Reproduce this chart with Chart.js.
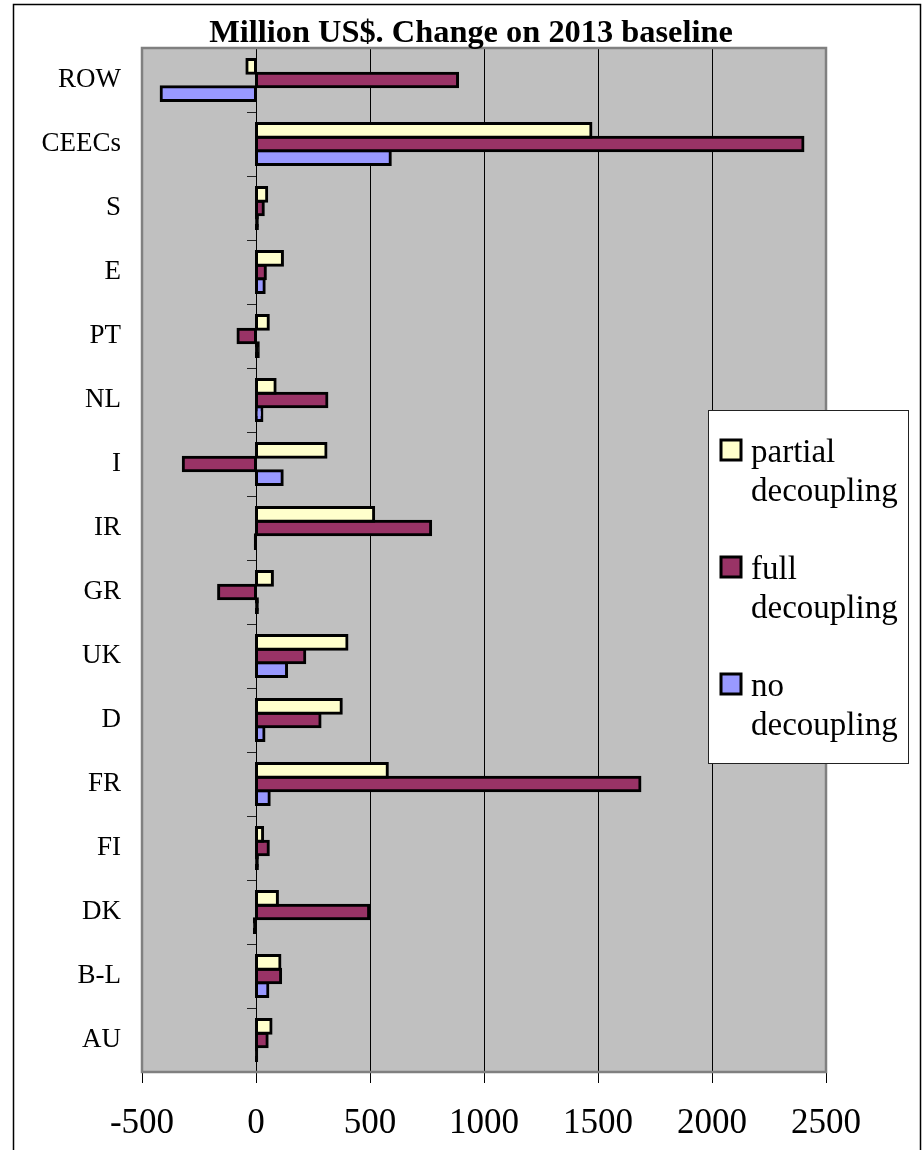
<!DOCTYPE html>
<html>
<head>
<meta charset="utf-8">
<title>Million US$. Change on 2013 baseline</title>
<script src="https://cdn.jsdelivr.net/npm/chart.js@4.4.1/dist/chart.umd.min.js"></script>
<style>
  html, body { margin: 0; padding: 0; background: #ffffff; }
  canvas { display: block; }
</style>
</head>
<body>
<canvas id="chart" width="922" height="1150"></canvas>
<script>
// Regions, top to bottom
const regions = ['ROW', 'CEECs', 'S', 'E', 'PT', 'NL', 'I', 'IR', 'GR', 'UK', 'D', 'FR', 'FI', 'DK', 'B-L', 'AU'];

// Change on the 2013 baseline, million US$
const partialDecoupling = [-40, 1469, 47, 116, 54, 84, 307, 516, 72, 399, 374, 576, 29, 94, 105, 66];
const fullDecoupling    = [884, 2399, 32, 41, -79, 311, -319, 766, -164, 214, 281, 1684, 54, 494, 108, 49];
const noDecoupling      = [-416, 589, 6, 36, 10, 26, 115, -3, 6, 134, 35, 58, 6, -7, 52, 3];

const seriesNames  = ['partial decoupling', 'full decoupling', 'no decoupling'];
const seriesColors = ['#FFFFCC', '#993366', '#9999FF'];

const xTicks = [-500, 0, 500, 1000, 1500, 2000, 2500];
const chartTitle = 'Million US$. Change on 2013 baseline';

const SERIF = '"Liberation Serif", "Times New Roman", Times, serif';
const BORDER = 3;

// Grey plot background, painted under the grid
const plotBackground = {
  id: 'plotBackground',
  beforeDraw(chart) {
    const { ctx, chartArea: a } = chart;
    ctx.save();
    ctx.fillStyle = '#C0C0C0';
    ctx.fillRect(a.left, a.top, a.right - a.left, a.bottom - a.top);
    ctx.restore();
  }
};

// Plot border and the short category ticks on the zero line
const plotFrame = {
  id: 'plotFrame',
  afterDatasetsDraw(chart) {
    const { ctx, chartArea: a, scales } = chart;
    const x0 = scales.x.getPixelForValue(0);
    const n = chart.data.labels.length;
    const step = (scales.y.bottom - scales.y.top) / n;
    ctx.save();
    ctx.strokeStyle = '#222';
    ctx.lineWidth = 1;
    for (let i = 0; i <= n; i++) {
      const y = Math.round(scales.y.top + i * step) + 0.5;
      ctx.beginPath();
      ctx.moveTo(x0 - 9, y);
      ctx.lineTo(x0, y);
      ctx.stroke();
    }
    ctx.strokeStyle = '#808080';
    ctx.lineWidth = 2.5;
    ctx.strokeRect(a.left, a.top, a.right - a.left, a.bottom - a.top);
    ctx.restore();
  }
};

// Title, boxed legend with wrapped labels, and the outer frame
const decorations = {
  id: 'decorations',
  afterDraw(chart) {
    const { ctx } = chart;
    ctx.save();

    ctx.fillStyle = '#000';
    ctx.font = 'bold 32.4px ' + SERIF;
    ctx.textAlign = 'center';
    ctx.textBaseline = 'alphabetic';
    ctx.fillText(chartTitle, 471, 42);

    // legend box
    const box = { left: 708.5, top: 410.5, right: 908.5, bottom: 763.5 };
    ctx.fillStyle = '#ffffff';
    ctx.fillRect(box.left, box.top, box.right - box.left, box.bottom - box.top);
    ctx.strokeStyle = '#222';
    ctx.lineWidth = 1;
    ctx.strokeRect(box.left, box.top, box.right - box.left, box.bottom - box.top);

    ctx.font = '33px ' + SERIF;
    ctx.textAlign = 'left';
    chart.data.datasets.forEach((ds, i) => {
      const base = 462 + i * 117;
      ctx.fillStyle = seriesColors[i];
      ctx.fillRect(721, base - 22, 20, 20);
      ctx.strokeStyle = '#000';
      ctx.lineWidth = BORDER;
      ctx.strokeRect(721, base - 22, 20, 20);
      ctx.fillStyle = '#000';
      const words = ds.label.split(' ');
      ctx.fillText(words[0], 751, base);
      ctx.fillText(words.slice(1).join(' '), 751, base + 38.5);
    });

    ctx.strokeStyle = '#000';
    ctx.lineWidth = 1.5;
    ctx.strokeRect(13.5, 4.5, 907, 1200);
    ctx.restore();
  }
};

const seriesData = [partialDecoupling, fullDecoupling, noDecoupling];

// A bar shorter than its outline shows only the outline colour
const barFill = i => c => {
  const x = c.chart.scales && c.chart.scales.x;
  if (x && typeof c.raw === 'number' &&
      Math.abs(x.getPixelForValue(c.raw) - x.getPixelForValue(0)) < BORDER) {
    return '#000000';
  }
  return seriesColors[i];
};

new Chart(document.getElementById('chart'), {
  type: 'bar',
  data: {
    labels: regions,
    datasets: seriesNames.map((name, i) => ({
      label: name,
      data: seriesData[i],
      backgroundColor: barFill(i),
      borderColor: '#000000',
      borderWidth: BORDER,
      borderSkipped: false,
      // outline straddles the bar edge, half outside and half inside
      inflateAmount: BORDER / 2,
      categoryPercentage: 0.64,
      barPercentage: 1
    }))
  },
  options: {
    indexAxis: 'y',
    responsive: false,
    animation: false,
    devicePixelRatio: 1,
    layout: { padding: { top: 48, right: 96, left: 0, bottom: 0 } },
    plugins: {
      legend: { display: false },
      title: { display: false },
      tooltip: { enabled: false }
    },
    scales: {
      x: {
        type: 'linear',
        min: xTicks[0],
        max: xTicks[xTicks.length - 1],
        afterBuildTicks(axis) { axis.ticks = xTicks.map(v => ({ value: v })); },
        afterFit(scale) { scale.height = 78; },
        grid: {
          color: c => (c.tick && (c.tick.value === xTicks[0] || c.tick.value === xTicks[xTicks.length - 1]))
            ? 'rgba(0,0,0,0)' : '#000000',
          lineWidth: 1,
          drawTicks: true,
          tickLength: 11,
          tickColor: '#000000'
        },
        border: { display: false },
        ticks: {
          font: { family: SERIF, size: 35 },
          color: '#000000',
          padding: 20,
          maxRotation: 0,
          autoSkip: false,
          callback: v => String(v)
        }
      },
      y: {
        afterFit(scale) { scale.width = 142; },
        grid: { display: false, drawTicks: false },
        border: { display: false },
        ticks: {
          font: { family: SERIF, size: 27 },
          color: '#000000',
          padding: 21,
          autoSkip: false
        }
      }
    }
  },
  plugins: [plotBackground, plotFrame, decorations]
});
</script>
</body>
</html>
